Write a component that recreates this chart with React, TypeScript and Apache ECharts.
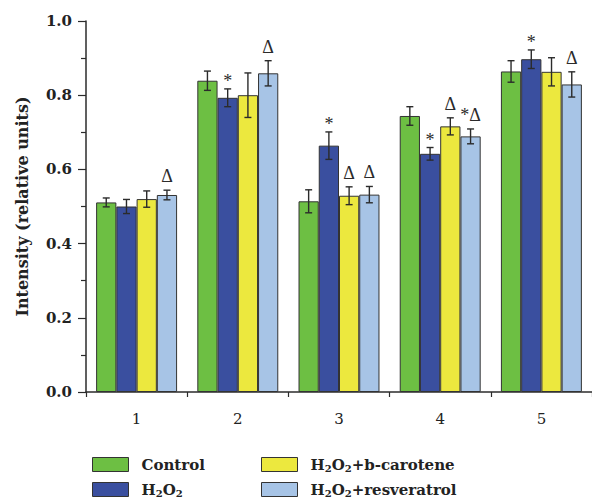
import React, { useEffect, useRef } from "react";
import * as echarts from "echarts";

const categories = ["1", "2", "3", "4", "5"];
const seriesNames = ["Control", "H2O2", "H2O2+b-carotene", "H2O2+resveratrol"];
const controlValues = [0.511, 0.839, 0.514, 0.744, 0.864];
const h2o2Values = [0.5, 0.793, 0.664, 0.642, 0.897];
const carotValues = [0.52, 0.8, 0.529, 0.716, 0.863];
const resvValues = [0.531, 0.859, 0.532, 0.689, 0.829];
const controlErr = [0.012, 0.026, 0.031, 0.025, 0.029];
const h2o2Err = [0.019, 0.024, 0.037, 0.017, 0.025];
const carotErr = [0.022, 0.06, 0.024, 0.023, 0.038];
const resvErr = [0.013, 0.034, 0.022, 0.02, 0.034];
const controlMarks = ["", "", "", "", ""];
const h2o2Marks = ["", "*", "*", "*", "*"];
const carotMarks = ["", "", "Δ", "Δ", ""];
const resvMarks = ["Δ", "Δ", "Δ", "*Δ", "Δ"];
const yTicks = [0, 0.2, 0.4, 0.6, 0.8, 1.0];

const colors = ["#6dbf43", "#3a4f9f", "#ece83e", "#a7c4e6"];
const values = [controlValues, h2o2Values, carotValues, resvValues];
const errs = [controlErr, h2o2Err, carotErr, resvErr];
const marks = [controlMarks, h2o2Marks, carotMarks, resvMarks];

const SERIF = "'DejaVu Serif', serif";
const MARKFONT = "'Liberation Serif', serif";
const INK = "#2b2b2b";
const GAP = 0.2;

const richName = (n: string) => n.replace(/H2O2/g, "H{s|2}O{s|2}");

const legendPos = [
  { left: 87, top: 452 },
  { left: 87, top: 477 },
  { left: 256, top: 452 },
  { left: 256, top: 477 },
];

export default function App() {
  const ref = useRef<HTMLDivElement>(null);
  useEffect(() => {
    if (!ref.current) return;
    const chart = echarts.init(ref.current, null, { renderer: "svg" });
    const barSeries = seriesNames.map((name, k) => ({
      name,
      type: "bar",
      data: values[k],
      barGap: "0%",
      barCategoryGap: GAP * 100 + "%",
      itemStyle: { color: colors[k], borderColor: "#333", borderWidth: 1 },
      z: 2,
    }));
    const errSeries = seriesNames.map((name, k) => ({
      name: "err" + k,
      type: "custom",
      z: 5,
      data: values[k].map((v, i) => [i, v, errs[k][i]]),
      encode: { x: 0, y: 1 },
      renderItem: (params: any, api: any) => {
        const ci = api.value(0);
        const v = api.value(1);
        const e = api.value(2);
        const band = api.size([1, 0])[0];
        const bw = (band * (1 - GAP)) / 4;
        const cx = api.coord([ci, v])[0] + (k - 1.5) * bw;
        const yT = api.coord([ci, v + e])[1];
        const yB = api.coord([ci, v - e])[1];
        const cap = 3.5;
        const ls = { stroke: INK, lineWidth: 1.4 };
        const children: any[] = [
          { type: "line", shape: { x1: cx, y1: yT, x2: cx, y2: yB }, style: ls },
          { type: "line", shape: { x1: cx - cap, y1: yT, x2: cx + cap, y2: yT }, style: ls },
          { type: "line", shape: { x1: cx - cap, y1: yB, x2: cx + cap, y2: yB }, style: ls },
        ];
        const m = marks[k][params.dataIndex];
        if (m) {
          children.push({
            type: "text",
            style: {
              text: m,
              x: cx,
              y: m === "*" ? yT + 1 : yT - 5,
              align: "center",
              verticalAlign: "bottom",
              fill: INK,
              fontSize: 18,
              fontFamily: MARKFONT,
            },
          });
        }
        return { type: "group", children };
      },
    }));
    const legendText = {
      fontFamily: SERIF,
      fontWeight: "bold",
      fontSize: 15,
      color: "#222",
      padding: [0, 0, 0, 8],
      rich: {
        s: { fontFamily: SERIF, fontWeight: "bold", fontSize: 10, color: "#222", padding: [8, 0, 0, 0] },
      },
    };
    chart.setOption({
      animation: false,
      grid: { left: 86, right: 0, top: 21, bottom: 108, containLabel: false },
      xAxis: [
        {
          type: "category",
          data: categories,
          position: "bottom",
          axisLine: { lineStyle: { color: INK, width: 1.5 } },
          axisTick: { alignWithLabel: true, length: 8, lineStyle: { color: INK, width: 1.2 } },
          axisLabel: { margin: 19, fontFamily: SERIF, fontSize: 15, color: "#222" },
        },
        {
          type: "category",
          data: categories,
          position: "bottom",
          axisLine: { show: false },
          axisTick: { show: true, length: 5, lineStyle: { color: INK, width: 1.2 } },
          axisLabel: { show: false },
        },
      ],
      yAxis: {
        type: "value",
        min: yTicks[0],
        max: yTicks[yTicks.length - 1],
        interval: 0.2,
        name: "Intensity (relative units)",
        nameLocation: "middle",
        nameGap: 56,
        nameTextStyle: { fontFamily: SERIF, fontWeight: "bold", fontSize: 16, color: "#222" },
        axisLine: { show: true, lineStyle: { color: INK, width: 1.5 } },
        axisTick: { show: true, length: 8, lineStyle: { color: INK, width: 1.2 } },
        minorTick: { show: true, splitNumber: 2, length: 5, lineStyle: { color: INK, width: 1.2 } },
        splitLine: { show: false },
        axisLabel: {
          margin: 14,
          fontFamily: SERIF,
          fontWeight: "bold",
          fontSize: 15,
          color: "#222",
          formatter: (v: number) => v.toFixed(1),
        },
      },
      legend: seriesNames.map((name, k) => ({
        left: legendPos[k].left,
        top: legendPos[k].top,
        orient: "horizontal",
        itemWidth: 36,
        itemHeight: 14,
        icon: "rect",
        itemStyle: { borderColor: "#333", borderWidth: 1 },
        data: [name],
        formatter: richName,
        textStyle: legendText,
      })),
      series: [...barSeries, ...errSeries],
    });
    return () => chart.dispose();
  }, []);
  return (
    <div
      ref={ref}
      style={{ position: "absolute", left: 0, top: 0, width: 592, height: 500 }}
    />
  );
}
